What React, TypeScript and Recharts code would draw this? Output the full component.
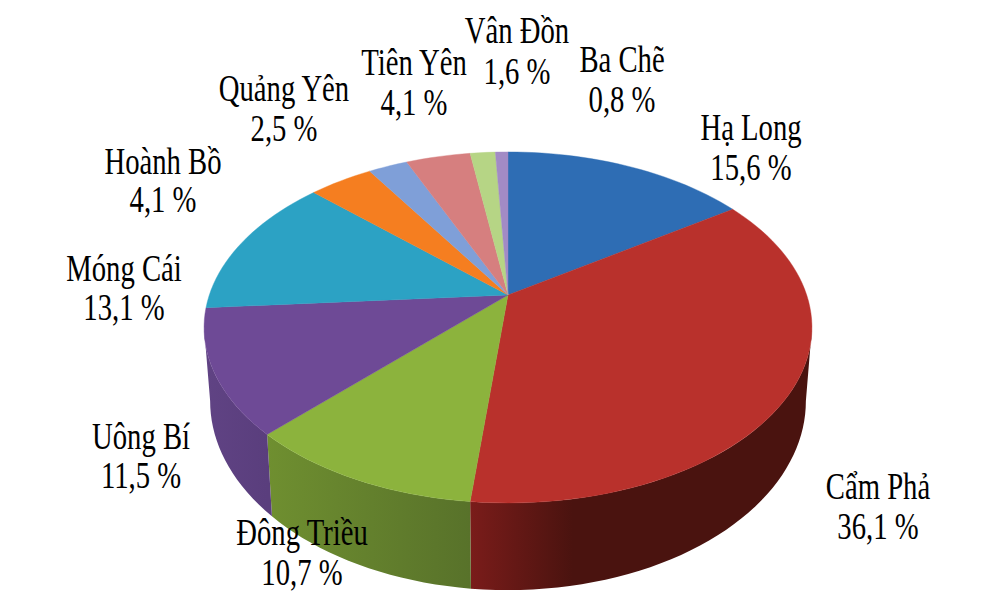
import { PieChart, Pie } from "recharts";

const districts = ["Hạ Long", "Cẩm Phả", "Đông Triều", "Uông Bí", "Móng Cái", "Hoành Bồ", "Quảng Yên", "Tiên Yên", "Vân Đồn", "Ba Chẽ"];
const shares = [15.6, 36.1, 10.7, 11.5, 13.1, 4.1, 2.5, 4.1, 1.6, 0.8];
const topColors = ["#2e6db4", "#b9312c", "#8cb33d", "#6e4a96", "#2ca2c4", "#f57e20", "#7f9fd8", "#d67f7f", "#b6d585", "#a28bc5"];
// wall shades, left end then right end of each visible wall
const sideLeft = ["#1c4270", "#7a1c1a", "#6f8f30", "#604384", "#1c6a80", "#a05214", "#53688d", "#8c5353", "#779057", "#6a5b81"];
const sideRight = ["#1c4270", "#4a130f", "#58722a", "#5a3e7d", "#1c6a80", "#a05214", "#53688d", "#8c5353", "#779057", "#6a5b81"];

// label anchors: centre x, name baseline, percent baseline
const labelSpots = [
  [751, 140, 180],
  [878, 499, 539],
  [302, 545, 585],
  [141, 449, 488],
  [124, 281, 320],
  [163, 174, 212],
  [284, 101, 141],
  [414, 75, 115],
  [517, 43, 84],
  [622, 72, 112],
];

const data = districts.map((name, i) => ({ name, value: shares[i] }));

// the pie lies tilted towards the viewer, so circle points get a perspective divide
const TILT = 0.185;
const SQUASH = 0.5675;
const DEPTH = 71;
const BOTTOM_SCALE = 0.98;
const FRONT_LIMIT = (Math.asin(TILT) * 180) / Math.PI;

const project = (cx: number, cy: number, r: number, deg: number) => {
  const a = (deg * Math.PI) / 180;
  const w = 1 + TILT * Math.sin(a);
  return {
    x: cx + (r * Math.cos(a)) / w,
    y: cy - (r * SQUASH * Math.sin(a)) / w,
    w,
  };
};

const arcPoints = (start: number, end: number) => {
  const steps = Math.max(2, Math.ceil(Math.abs(start - end) / 2));
  return Array.from({ length: steps + 1 }, (_, i) => start + ((end - start) * i) / steps);
};

const TopSlice = (props: any) => {
  const { cx, cy, outerRadius, startAngle, endAngle, index } = props;
  const pts = arcPoints(startAngle, endAngle).map((d) => project(cx, cy, outerRadius, d));
  const path = `M${cx},${cy} ` + pts.map((p) => `L${p.x},${p.y}`).join(" ") + " Z";
  return <path d={path} fill={topColors[index]} stroke={topColors[index]} strokeWidth={0.4} />;
};

const SideSlice = (props: any) => {
  const { cx, cy, outerRadius, startAngle, endAngle, index } = props;
  const from = Math.min(startAngle, -FRONT_LIMIT);
  const to = Math.max(endAngle, -180 + FRONT_LIMIT);
  if (from <= to) return null;
  const top = arcPoints(from, to).map((d) => project(cx, cy, outerRadius, d));
  const bottom = top
    .map((p) => ({ x: cx + (p.x - cx) * BOTTOM_SCALE, y: p.y + DEPTH / p.w }))
    .reverse();
  const path = "M" + [...top, ...bottom].map((p) => `${p.x},${p.y}`).join(" L") + " Z";
  const xs = top.map((p) => p.x);
  const left = Math.min(...xs);
  const span = Math.max(...xs) - left;
  // the big red wall darkens fast and then stays flat
  const reach = index === 1 ? 0.3 : 1;
  const gradId = `side-${index}`;
  return (
    <g>
      <defs>
        <linearGradient id={gradId} gradientUnits="userSpaceOnUse" x1={left} x2={left + span * reach} y1={0} y2={0}>
          <stop offset="0%" stopColor={sideLeft[index]} />
          <stop offset="100%" stopColor={sideRight[index]} />
        </linearGradient>
      </defs>
      <path d={path} fill={`url(#${gradId})`} />
    </g>
  );
};

const renderLabel = (props: any) => {
  const i = props.index;
  const [x, nameY, pctY] = labelSpots[i];
  const pct = shares[i].toFixed(1).replace(".", ",") + " %";
  const style = { fontFamily: "'Liberation Serif', serif", fontSize: 28.7, fill: "#000" };
  return (
    <g key={districts[i]}>
      <text transform={`translate(${x} ${nameY}) scale(1 1.3)`} textAnchor="middle" style={style}>
        {districts[i]}
      </text>
      <text transform={`translate(${x} ${pctY}) scale(1 1.3)`} textAnchor="middle" style={style}>
        {pct}
      </text>
    </g>
  );
};

export default function App() {
  return (
    <div style={{ position: "absolute", left: 0, top: 0, width: 1000, height: 602, background: "#fff" }}>
      <PieChart width={1000} height={602} margin={{ top: 0, right: 0, bottom: 0, left: 0 }}>
        <Pie
          data={data}
          dataKey="value"
          nameKey="name"
          cx={508}
          cy={295}
          outerRadius={298.7}
          startAngle={90}
          endAngle={-270}
          stroke="none"
          isAnimationActive={false}
          shape={SideSlice}
        />
        <Pie
          data={data}
          dataKey="value"
          nameKey="name"
          cx={508}
          cy={295}
          outerRadius={298.7}
          startAngle={90}
          endAngle={-270}
          stroke="none"
          isAnimationActive={false}
          shape={TopSlice}
          label={renderLabel}
          labelLine={false}
        />
      </PieChart>
    </div>
  );
}
